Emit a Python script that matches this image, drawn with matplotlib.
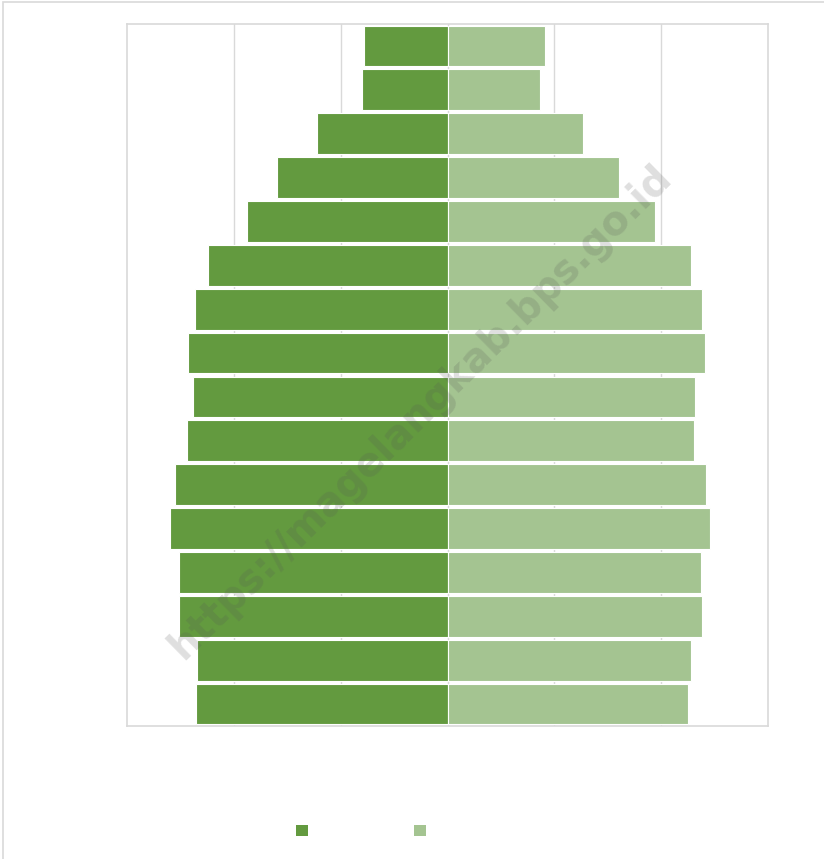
import matplotlib.pyplot as plt
from matplotlib.patches import Patch, Rectangle

# age groups, bottom (youngest) to top (oldest)
age_groups = ['0-4', '5-9', '10-14', '15-19', '20-24', '25-29', '30-34', '35-39',
              '40-44', '45-49', '50-54', '55-59', '60-64', '65-69', '70-74', '75+']
male = [2356, 2346, 2515, 2515, 2599, 2552, 2440, 2384,
        2431, 2365, 2244, 1879, 1599, 1225, 804, 786]
female = [2253, 2281, 2384, 2374, 2459, 2421, 2309, 2318,
          2412, 2384, 2281, 1945, 1608, 1272, 870, 917]

dark_green = '#639a3f'
light_green = '#a4c491'
grid_gray = '#d9d9d9'

fig = plt.figure(figsize=(8.24, 8.59), dpi=100)

# outer chart border
fig.patches.append(Rectangle((3 / 824, -0.05), 1.1, 1.05 - 2 / 859,
                             transform=fig.transFigure, fill=False,
                             edgecolor=grid_gray, linewidth=1.2))

ax = fig.add_axes([127 / 824, 1 - 726 / 859, 641 / 824, 702 / 859])

y = list(range(len(age_groups)))
neg_male = [-v for v in male]
ax.barh(y, neg_male, height=0.93, color=dark_green, edgecolor='white', linewidth=0.8, zorder=2)
ax.barh(y, female, height=0.93, color=light_green, edgecolor='white', linewidth=0.8, zorder=2)

ax.set_xlim(-3000, 3000)
ax.set_ylim(-0.5, len(age_groups) - 0.5)
ax.set_xticks([-2000, -1000, 0, 1000, 2000])
ax.set_yticks([])
ax.tick_params(axis='x', length=0, labelbottom=False)
ax.grid(axis='x', color=grid_gray, linewidth=1, zorder=0)
ax.set_axisbelow(True)
for s in ax.spines.values():
    s.set_color(grid_gray)
    s.set_linewidth(1.2)

# legend squares (no visible labels in the source)
handles = [Patch(facecolor=dark_green), Patch(facecolor=light_green)]
fig.legend(handles, ['', ''], loc='center', bbox_to_anchor=(361 / 824, 1 - 831 / 859),
           ncol=2, frameon=False, handlelength=0.85, handleheight=0.85,
           handletextpad=0, columnspacing=7.6)

# watermark
fig.text(0.511, 0.521, 'https://magelangkab.bps.go.id', rotation=44.5,
         ha='center', va='center', fontsize=28.5, fontweight='bold',
         color='#555555', alpha=0.19, zorder=10)

fig.savefig('out.png', dpi=100)
